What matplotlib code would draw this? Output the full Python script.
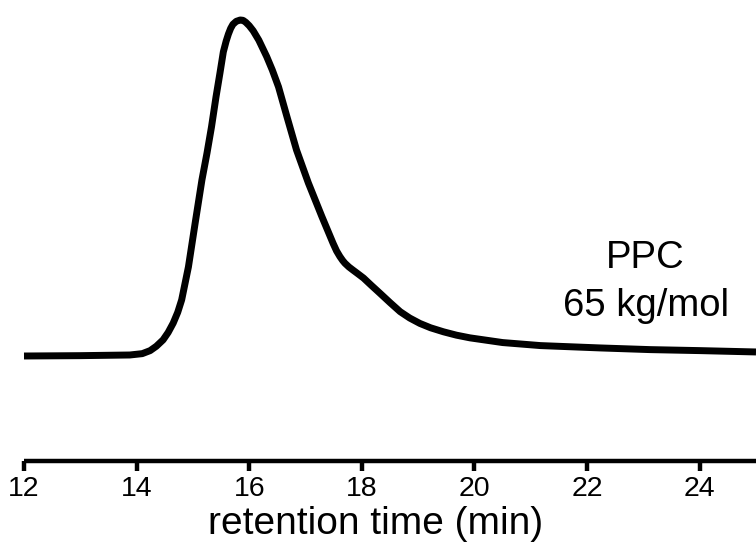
import numpy as np
import matplotlib
matplotlib.use('Agg')
import matplotlib.pyplot as plt

plt.rcParams['font.family'] = ['Liberation Sans', 'DejaVu Sans']

# GPC trace (normalised detector signal)
retention_time = [12.00, 12.99, 13.88, 14.10, 14.24, 14.35, 14.47, 14.56, 14.65,
                  14.73, 14.80, 14.92, 15.04, 15.16, 15.25, 15.33, 15.41, 15.48,
                  15.54, 15.59, 15.63, 15.67, 15.71, 15.77, 15.84, 15.89, 15.94,
                  16.00, 16.07, 16.17, 16.31, 16.41, 16.52, 16.67, 16.84, 17.05,
                  17.29, 17.49, 17.55, 17.61, 17.66, 17.70, 17.77, 17.84, 17.92,
                  18.03, 18.17, 18.32, 18.50, 18.68, 18.85, 19.03, 19.22, 19.45,
                  19.68, 19.92, 20.50, 21.17, 22.23, 23.12, 24.01, 25.00]
signal = [0.000, 0.001, 0.003, 0.007, 0.016, 0.029, 0.048, 0.070, 0.098,
          0.130, 0.167, 0.265, 0.396, 0.524, 0.604, 0.682, 0.771, 0.842,
          0.905, 0.937, 0.958, 0.975, 0.987, 0.996, 1.000, 0.999, 0.993,
          0.983, 0.968, 0.940, 0.891, 0.851, 0.801, 0.712, 0.613, 0.515,
          0.415, 0.335, 0.313, 0.296, 0.284, 0.276, 0.265, 0.256, 0.246,
          0.232, 0.210, 0.187, 0.159, 0.132, 0.113, 0.097, 0.084, 0.072,
          0.062, 0.054, 0.040, 0.031, 0.024, 0.019, 0.016, 0.012]

xticks = [12, 14, 16, 18, 20, 22, 24]
sample_label = 'PPC'
mass_label = '65 kg/mol'

W, H = 756, 551
fig = plt.figure(figsize=(W / 100, H / 100), dpi=100)
ax = fig.add_axes([24 / W, 90 / H, 732 / W, 461 / H])

ax.plot(retention_time, signal, color='black', lw=5,
        solid_joinstyle='round', solid_capstyle='butt', clip_on=False)

ax.set_xlim(12, 25)
ax.set_ylim(-0.3125, 1.0595)

for s in ['top', 'left', 'right']:
    ax.spines[s].set_visible(False)
ax.spines['bottom'].set_linewidth(3.2)
ax.spines['bottom'].set_capstyle('butt')
ax.set_yticks([])
ax.set_xticks(xticks)
ax.tick_params(axis='x', direction='out', length=7, width=3.2,
               labelsize=20.5, pad=4)

ax.set_xlabel('retention time (min)', fontsize=28, va='top')
ax.xaxis.set_label_coords((376 - 24) / 732, -0.098)

ax.text(23.04, 0.262, sample_label, fontsize=27.5, ha='center', va='baseline')
ax.text(23.04, 0.119, mass_label, fontsize=27.5, ha='center', va='baseline')

fig.savefig('out.png', dpi=100)
